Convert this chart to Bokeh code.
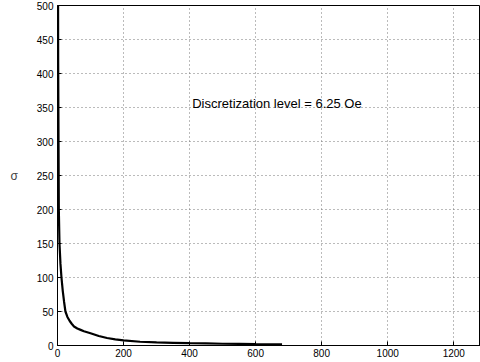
from bokeh.plotting import figure
from bokeh.models import Range1d, FixedTicker, Label
from bokeh.embed import file_html
from bokeh.resources import INLINE

# Data
field = [1, 2, 4, 6, 9, 12, 16, 20, 24, 30, 37, 43, 50, 60, 70, 80, 100, 125, 150,
         175, 200, 250, 300, 350, 400, 450, 500, 550, 600, 650, 680]
sigma = [700, 420, 200, 150, 120, 100, 80, 64, 50, 42, 36, 32, 28, 25, 23, 21, 18,
         14, 11, 9, 7.5, 5.5, 4.5, 4, 3.4, 3, 2.6, 2.3, 2, 1.8, 1.6]
x_ticks = [0, 200, 400, 600, 800, 1000, 1200]
y_ticks = [0, 50, 100, 150, 200, 250, 300, 350, 400, 450, 500]
annotation = "Discretization level = 6.25 Oe"
y_label = "σ"

FONT = "Liberation Sans"

p = figure(width=480, height=362, output_backend="svg", toolbar_location=None,
           x_range=Range1d(0, 1281), y_range=Range1d(0, 500),
           min_border_left=57, min_border_right=0, min_border_top=5, min_border_bottom=17)
p.background_fill_color = "white"
p.border_fill_color = "white"
p.outline_line_color = "black"
p.outline_line_width = 1

p.line(field, sigma, line_color="black", line_width=2.2)

for ax in (p.xaxis[0], p.yaxis[0]):
    ax.axis_line_color = "black"
    ax.major_tick_in = 4
    ax.major_tick_out = 0
    ax.minor_tick_line_color = None
    ax.major_label_text_font = FONT
    ax.major_label_text_font_size = "10px"
    ax.major_label_text_color = "black"
    ax.major_label_standoff = 4

p.xaxis.ticker = FixedTicker(ticks=x_ticks)
p.yaxis.ticker = FixedTicker(ticks=y_ticks)
p.xaxis.major_label_standoff = 3

p.yaxis.axis_label = y_label
p.yaxis.axis_label_orientation = "horizontal"
p.yaxis.axis_label_text_font = FONT
p.yaxis.axis_label_text_font_size = "12px"
p.yaxis.axis_label_text_font_style = "normal"
p.yaxis.axis_label_standoff = 16

p.grid.grid_line_color = "#777777"
p.grid.grid_line_dash = "1 3"
p.grid.grid_line_width = 1

p.add_layout(Label(x=408, y=356, text=annotation, text_font=FONT,
                   text_font_size="13px", text_color="black",
                   text_baseline="middle", text_align="left"))

open("out.html", "w").write(file_html(p, INLINE))
